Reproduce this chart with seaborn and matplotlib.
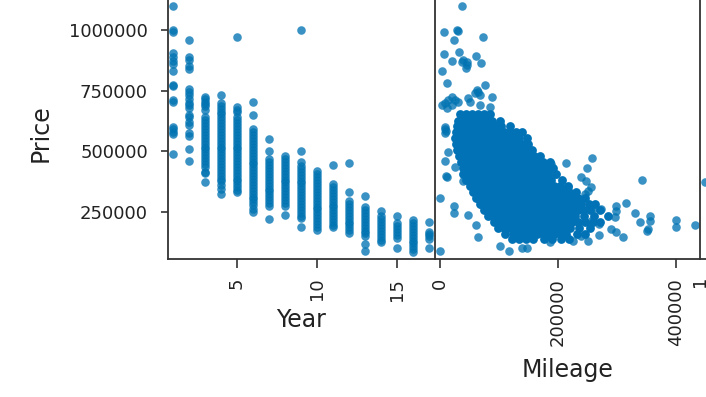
"""
Price against Year and Mileage, cropped pair plot panels.
Prices and mileages are read off the picture, in thousands.
"""

import pandas as pd
import matplotlib
matplotlib.use("Agg")
import matplotlib.pyplot as plt
import seaborn as sns

sns.set_style("ticks")

# ---- Year panel: prices (thousands) per year column ----
year_1 = [1098, 998, 990, 905, 890, 870, 860, 830, 775, 770, 712, 705, 600, 590, 580, 570, 490]
year_2 = [960, 890, 875, 850, 840, 755, 745, 730, 715, 700, 690, 680, 650, 640, 620, 610, 575, 565, 510, 460]
year_3 = [725, 715, 705, 695, 685, 672, 640, 630, 618, 605, 592, 580, 568, 556, 544, 532, 520, 508,
          496, 484, 472, 460, 448, 436, 415, 412, 375]
year_4 = [734, 700, 688, 676, 664, 652, 640, 628, 616, 604, 592, 580, 568, 556, 544, 532, 520, 508,
          496, 484, 472, 460, 448, 436, 424, 412, 400, 388, 376, 360, 344, 325]
year_5 = [971, 684, 672, 660, 640, 628, 616, 604, 592, 580, 568, 556, 544, 532, 520, 508, 496, 484,
          472, 460, 448, 436, 424, 412, 400, 388, 376, 364, 352, 342, 332]
year_6 = [705, 648, 590, 578, 566, 554, 542, 530, 518, 506, 494, 482, 470, 458, 446, 434, 422, 410,
          398, 386, 374, 362, 350, 338, 326, 314, 302, 290, 278, 262, 250]
year_7 = [549, 500, 467, 455, 443, 431, 419, 407, 395, 383, 371, 359, 347, 335, 323, 311, 299, 287, 275, 221]
year_8 = [480, 468, 456, 444, 432, 420, 408, 396, 384, 372, 360, 348, 336, 324, 312, 300, 288, 276, 238]
year_9 = [1000, 500, 455, 440, 428, 416, 404, 392, 380, 368, 356, 344, 332, 320, 308, 296, 284, 272,
          260, 248, 236, 224, 189]
year_10 = [418, 405, 393, 381, 369, 357, 345, 333, 321, 309, 297, 285, 273, 261, 249, 237, 225, 213, 201, 189, 176]
year_11 = [443, 365, 353, 341, 329, 317, 305, 293, 281, 269, 257, 245, 233, 221, 209, 197, 189]
year_12 = [451, 332, 295, 283, 271, 259, 247, 235, 223, 211, 199, 187, 175, 163]
year_13 = [316, 270, 258, 246, 234, 222, 210, 198, 186, 174, 162, 152, 119, 90]
year_14 = [254, 232, 220, 208, 196, 184, 172, 160, 148, 136, 127]
year_15 = [234, 205, 193, 181, 169, 157, 145, 102]
year_16 = [217, 205, 193, 181, 169, 157, 145, 133, 121, 109, 97, 87]
year_17 = [209, 168, 158, 150, 139, 102]

year_columns = [year_1, year_2, year_3, year_4, year_5, year_6, year_7, year_8, year_9,
                year_10, year_11, year_12, year_13, year_14, year_15, year_16, year_17]

# ---- Mileage panel: scattered points (thousands) ----
scatter_mileage = [37, 29, 30, 7, 73, 24, 32, 7, 61, 20, 69, 39, 46, 37, 44, 45, 3, 12, 76, 63, 64, 59, 68, 88,
                   20, 25, 14, 31, 8, 3, 47, 51, 68, 85, 12, 20,
                   8, 8, 8, 10, 14, 8, 25, 10, 12, 39, 0, 24, 24, 47, 61, 64, 102, 117, 139, 147, 0, 186,
                   214, 258, 249, 342, 239, 247, 256, 251, 246, 208, 217, 188, 195,
                   315, 298, 298, 297, 331, 339, 356, 356, 351, 352, 400, 400, 432, 310, 298, 290, 270,
                   251, 225, 239, 256, 270, 273, 261, 231]
scatter_price = [1098, 1000, 995, 990, 971, 959, 910, 902, 893, 873, 865, 877, 869, 869, 844, 855, 832, 783, 775,
                 754, 746, 742, 734, 725, 725, 713, 713, 705, 700, 692, 721, 705, 692, 684, 680, 692,
                 600, 590, 575, 585, 496, 459, 434, 398, 395, 377, 307, 275, 246, 238, 197, 148, 111, 90,
                 102, 102, 90, 127,
                 451, 471, 430, 381, 393, 377, 352, 336, 324, 357, 352, 447, 406,
                 287, 275, 254, 229, 246, 209, 234, 213, 172, 180, 217, 189, 197, 148, 168, 180, 156,
                 131, 131, 152, 213, 201, 262, 266, 303]

# ---- Mileage panel: the dense cloud, one mileage list per price row ----
cloud_prices = [652, 627, 603, 578, 553, 529, 504, 480, 455, 430, 406, 381, 357, 332, 307, 283, 258, 234, 209, 184,
                160, 140]
cloud_rows = [
    [34, 44, 54, 64, 74, 85],
    [31, 39, 49, 59, 69, 79, 89, 102],
    [29, 34, 44, 54, 64, 74, 84, 94, 104, 119],
    [27, 39, 49, 59, 69, 79, 89, 99, 109, 119, 129, 139],
    [25, 34, 44, 54, 64, 74, 84, 94, 104, 114, 124, 134, 148],
    [27, 39, 49, 59, 69, 79, 89, 99, 109, 119, 129, 139, 149],
    [29, 34, 44, 54, 64, 74, 84, 94, 104, 114, 124, 134, 144, 156],
    [32, 39, 49, 59, 69, 79, 89, 99, 109, 119, 129, 139, 149, 159, 170],
    [36, 44, 54, 64, 74, 84, 94, 104, 114, 124, 134, 144, 154, 164, 174, 186],
    [39, 49, 59, 69, 79, 89, 99, 109, 119, 129, 139, 149, 159, 169, 179, 192],
    [39, 44, 54, 64, 74, 84, 94, 104, 114, 124, 134, 144, 154, 164, 174, 184, 197],
    [44, 49, 59, 69, 79, 89, 99, 109, 119, 129, 139, 149, 159, 169, 179, 189, 207],
    [51, 54, 64, 74, 84, 94, 104, 114, 124, 134, 144, 154, 164, 174, 184, 194, 204, 217],
    [56, 59, 69, 79, 89, 99, 109, 119, 129, 139, 149, 159, 169, 179, 189, 199, 209, 219, 231],
    [61, 64, 74, 84, 94, 104, 114, 124, 134, 144, 154, 164, 174, 184, 194, 204, 214, 224, 234, 246],
    [68, 69, 79, 89, 99, 109, 119, 129, 139, 149, 159, 169, 179, 189, 199, 209, 219, 229, 239, 252, 263],
    [75, 84, 94, 104, 114, 124, 134, 144, 154, 164, 174, 184, 194, 204, 214, 224, 234, 244, 254, 271],
    [81, 89, 99, 109, 119, 129, 139, 149, 159, 169, 179, 189, 199, 209, 219, 229, 245, 262, 285],
    [92, 104, 114, 124, 134, 144, 154, 164, 174, 184, 194, 204, 214, 224, 234, 246, 260, 271],
    [98, 109, 119, 129, 139, 149, 159, 169, 179, 189, 199, 209, 220, 235, 254],
    [110, 124, 134, 144, 154, 164, 174, 184, 194, 204, 214, 232, 246],
    [122, 134, 146, 158, 176, 190, 205, 218],
]

# ---- Third panel, only its first point is inside the crop ----
third_x = [1.115]
third_price = [373000]

year_ticks = [5, 10, 15]
mileage_ticks = [0, 200000, 400000]
third_ticks = [1]
price_ticks = [250000, 500000, 750000, 1000000]

# long tables for seaborn
year_df = pd.DataFrame({
    "Year": [i + 1 for i, col in enumerate(year_columns) for _ in col],
    "Price": [p * 1000 for col in year_columns for p in col],
})
scatter_df = pd.DataFrame({
    "Mileage": [m * 1000 for m in scatter_mileage],
    "Price": [p * 1000 for p in scatter_price],
})
cloud_df = pd.DataFrame({
    "Mileage": [m * 1000 for row in cloud_rows for m in row],
    "Price": [p * 1000 for p, row in zip(cloud_prices, cloud_rows) for _ in row],
})

W, H = 706, 397
fig = plt.figure(figsize=(W / 100, H / 100), dpi=100)
bottom = (H - 259) / H

ax1 = fig.add_axes([168 / W, bottom, 267 / W, 1 - bottom])
ax2 = fig.add_axes([435 / W, bottom, 265 / W, 1 - bottom])
ax3 = fig.add_axes([700 / W, bottom, 265 / W, 1 - bottom])

kw = dict(color="#0173B2", s=38, alpha=0.78, linewidth=0)
sns.scatterplot(data=year_df, x="Year", y="Price", ax=ax1, **kw)
sns.scatterplot(data=scatter_df, x="Mileage", y="Price", ax=ax2, **kw)
# the cloud overlaps so much in the original that it reads as one solid colour
sns.scatterplot(data=cloud_df, x="Mileage", y="Price", ax=ax2, color="#0172B6", s=40, linewidth=0)
sns.scatterplot(x=third_x, y=third_price, ax=ax3, **kw)

ax1.set_xlim(0.69, 17.4)
ax2.set_xlim(-8500, 441000)
ax3.set_xlim(0.99, 7.59)
for ax in (ax1, ax2, ax3):
    ax.set_ylim(57000, 1123000)

ax1.set_xticks(year_ticks)
ax2.set_xticks(mileage_ticks)
ax3.set_xticks(third_ticks)
ax1.set_yticks(price_ticks)
ax1.ticklabel_format(style="plain", axis="both")
ax2.ticklabel_format(style="plain", axis="x")
ax2.set_yticks([])
ax3.set_yticks([])

for ax in (ax1, ax2, ax3):
    sns.despine(ax=ax)
    ax.tick_params(axis="x", rotation=90, labelsize=13, length=6.5, width=1.1, pad=7, colors="#222222")
    ax.tick_params(axis="y", labelsize=13, length=5, width=1.1, pad=9.5, colors="#222222")
    for side in ("left", "bottom"):
        ax.spines[side].set_linewidth(1.3)
        ax.spines[side].set_color("#333333")
ax3.tick_params(axis="x", length=0, pad=11.7)

ax1.set_xlabel("Year", fontsize=17, color="#222222")
ax1.xaxis.set_label_coords(0.5, -0.19)
ax2.set_xlabel("Mileage", fontsize=17, color="#222222")
ax2.xaxis.set_label_coords(0.5, -0.383)
ax1.set_ylabel("Price", fontsize=17, color="#222222")
ax1.yaxis.set_label_coords(-0.431, 0.487)
ax2.set_ylabel("")
ax3.set_xlabel("")
ax3.set_ylabel("")

plt.savefig("out.png", dpi=100)
plt.close()
